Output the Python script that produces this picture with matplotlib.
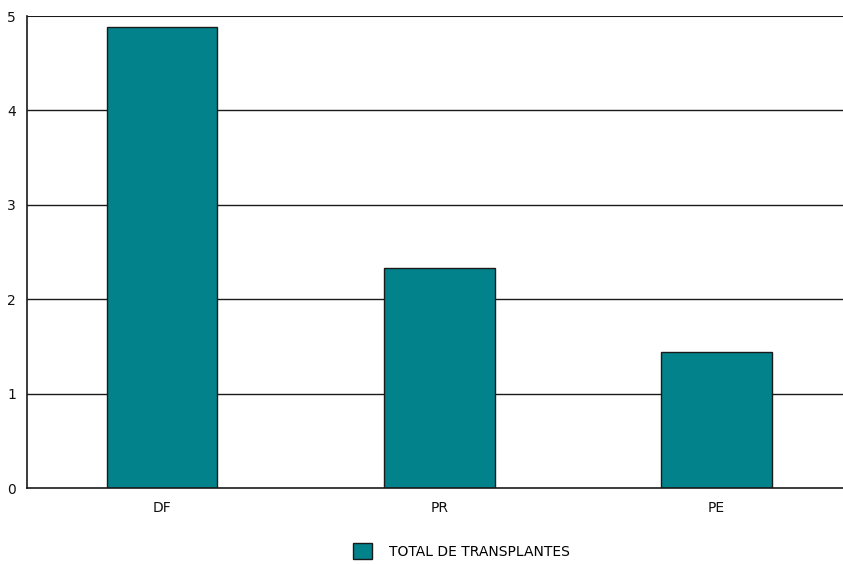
import matplotlib.pyplot as plt
from matplotlib import font_manager

states = ["DF", "PR", "PE"]
transplants = [4.88, 2.33, 1.44]
y_ticks = [0, 1, 2, 3, 4, 5]
series_label = "TOTAL DE TRANSPLANTES"

names = {f.name for f in font_manager.fontManager.ttflist}
family = "Liberation Sans Narrow" if "Liberation Sans Narrow" in names else "DejaVu Sans"
plt.rcParams["font.family"] = [family, "DejaVu Sans"]

W, H = 843, 564
fig = plt.figure(figsize=(W / 100, H / 100), dpi=100)
ax = fig.add_axes([27 / W, (H - 488) / H, (843 - 27) / W, (488 - 16) / H])

ax.set_axisbelow(True)
for v in y_ticks[1:]:
    ax.axhline(v, color="#1a1a1a", linewidth=1.0 if v < 5 else 1.5, zorder=0)

ax.bar(range(len(states)), transplants, width=0.4, color="#02828A",
       edgecolor="#1a1a1a", linewidth=1.0, label=series_label, zorder=2)

ax.set_xlim(-0.487, 2.457)
ax.set_ylim(0, 5)
ax.set_yticks(y_ticks)
ax.set_xticks(range(len(states)))
ax.set_xticklabels(states)
ax.tick_params(length=0, labelsize=10, colors="#111111")
ax.tick_params(axis="x", pad=9)
ax.tick_params(axis="y", pad=8)
for side in ("top", "right"):
    ax.spines[side].set_visible(False)
for side in ("left", "bottom"):
    ax.spines[side].set_color("#1a1a1a")
    ax.spines[side].set_linewidth(1.2)

fig.legend(loc="center", bbox_to_anchor=(461 / W, 1 - 551 / H), frameon=False,
           fontsize=10, handlelength=1.4, handleheight=1.4, handletextpad=1.2)

fig.savefig("out.png", dpi=100)
